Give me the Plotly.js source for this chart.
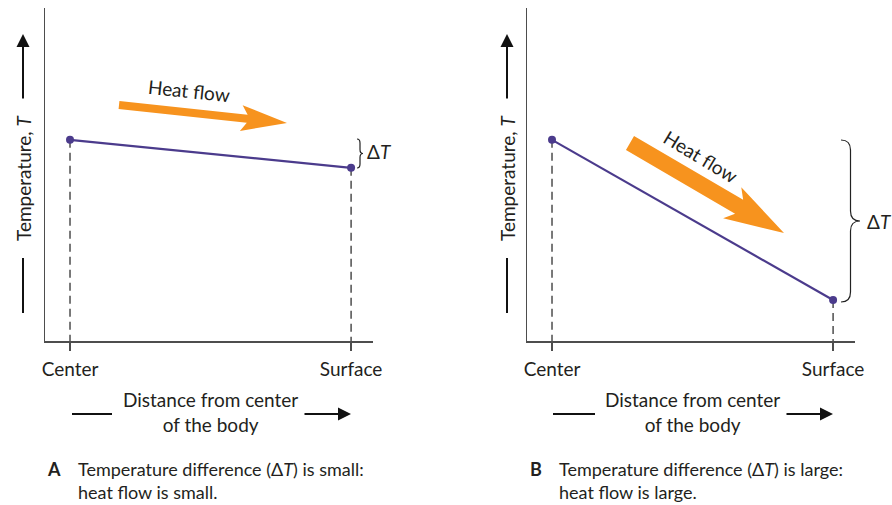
<!DOCTYPE html>
<html><head><meta charset="utf-8">
<script src="https://cdn.plot.ly/plotly-3.0.1.min.js"></script>
<style>html,body{margin:0;padding:0;background:#fff}#chart{width:892px;height:505px}</style>
</head><body><div id="chart"></div>
<script>
// ---- data ----
const positions = ['Center', 'Surface'];
const posX = [0, 1];
const tempA = [6.04, 5.2];   // panel A: small temperature difference
const tempB = [6.04, 1.23];  // panel B: large temperature difference
const xTitle = 'Distance from center<br>of the body';
const yTitle = 'Temperature, <i>T</i>';
const heatLabel = 'Heat flow';
const deltaLabel = 'Δ<i>T</i>';
const captionA = 'Temperature difference (Δ<i>T</i>) is small:<br>heat flow is small.';
const captionB = 'Temperature difference (Δ<i>T</i>) is large:<br>heat flow is large.';

// ---- style ----
const W = 892, H = 505;
const FONT = 'Lato, "Open Sans", sans-serif';
const TXT = '#231f20';
const PURPLE = '#4b3b8c';
const ORANGE = '#f7931e';
const AXC = '#4d4d4d';
const px = x => x / W;
const py = y => 1 - y / H;

function arrowPath(tx, ty, hx, hy, bw, hl, hw, sw) {
  const dx = hx - tx, dy = hy - ty, len = Math.hypot(dx, dy);
  const ux = dx / len, uy = dy / len, nx = -uy, ny = ux;
  const P = (d, o) => [tx + ux * d + nx * o, ty + uy * d + ny * o];
  const pts = [P(0, bw), P(len - hl + sw, bw), P(len - hl, hw), [hx, hy],
               P(len - hl, -hw), P(len - hl + sw, -bw), P(0, -bw)];
  return 'M' + pts.map(p => px(p[0]).toFixed(5) + ',' + py(p[1]).toFixed(5)).join(' L') + ' Z';
}
function bracePath(x0, y0, y1, w, r) {
  const ym = (y0 + y1) / 2, xm = x0 + w / 2;
  const f = (x, y) => px(x).toFixed(5) + ',' + py(y).toFixed(5);
  return 'M' + f(x0, y0) + ' Q' + f(xm, y0) + ' ' + f(xm, y0 + r) +
    ' L' + f(xm, ym - r) + ' Q' + f(xm, ym) + ' ' + f(x0 + w, ym) +
    ' Q' + f(xm, ym) + ' ' + f(xm, ym + r) +
    ' L' + f(xm, y1 - r) + ' Q' + f(xm, y1) + ' ' + f(x0, y1);
}
function hline(x0, x1, y) {
  return {type: 'line', xref: 'paper', yref: 'paper', x0: px(x0), x1: px(x1), y0: py(y), y1: py(y),
          line: {color: '#111', width: 2}};
}
function vline(x, y0, y1) {
  return {type: 'line', xref: 'paper', yref: 'paper', x0: px(x), x1: px(x), y0: py(y0), y1: py(y1),
          line: {color: '#111', width: 2}};
}
function arrowAnn(x, y, ax, ay) {
  return {xref: 'paper', yref: 'paper', x: px(x), y: py(y), ax: ax, ay: ay, text: '',
          showarrow: true, arrowhead: 2, arrowsize: 1.3, arrowwidth: 2, arrowcolor: '#111'};
}
function txt(x, y, text, size, opts) {
  return Object.assign({xref: 'paper', yref: 'paper', x: px(x), y: py(y), text: text, showarrow: false,
          xanchor: 'center', yanchor: 'middle',
          font: {family: FONT, size: size, color: TXT}}, opts || {});
}

const traces = [];
[['x', 'y', tempA], ['x2', 'y2', tempB]].forEach(([xa, ya, t]) => {
  posX.forEach((xv, i) => {
    traces.push({x: [xv, xv], y: [t[i], 0], xaxis: xa, yaxis: ya, mode: 'lines', hoverinfo: 'skip',
                 line: {color: '#222', width: 1.2, dash: '8px,5px'}, cliponaxis: false});
  });
  traces.push({x: posX, y: t, xaxis: xa, yaxis: ya, mode: 'lines+markers', cliponaxis: false,
               line: {color: PURPLE, width: 2.2}, marker: {color: PURPLE, size: 8}});
});

const xax = d => ({domain: d, range: [-0.089, 1.078], showgrid: false, zeroline: false,
  showline: true, linecolor: AXC, linewidth: 1.5, ticks: 'outside', ticklen: 8, tickwidth: 1.2, tickcolor: AXC,
  tickvals: posX, ticktext: positions, ticklabelstandoff: 3, fixedrange: true,
  tickfont: {family: FONT, size: 19, color: TXT}});
const yax = (anchor) => ({domain: [py(341), py(8)], range: [0, 10], showgrid: false, zeroline: false,
  showline: true, linecolor: AXC, linewidth: 1.5, showticklabels: false, ticks: '', anchor: anchor, fixedrange: true});

const layout = {
  width: W, height: H, margin: {l: 0, r: 0, t: 0, b: 0}, showlegend: false,
  paper_bgcolor: '#fff', plot_bgcolor: '#fff',
  xaxis: Object.assign(xax([px(45), px(373)]), {anchor: 'y'}),
  yaxis: yax('x'),
  xaxis2: Object.assign(xax([px(527), px(855)]), {anchor: 'y2'}),
  yaxis2: yax('x2'),
  shapes: [
    {type: 'path', xref: 'paper', yref: 'paper', path: arrowPath(119, 105, 287, 123, 4, 46, 13, 6), fillcolor: ORANGE, line: {width: 0}},
    {type: 'path', xref: 'paper', yref: 'paper', path: arrowPath(630, 143, 784, 233, 8, 60, 18, 8), fillcolor: ORANGE, line: {width: 0}},
    {type: 'path', xref: 'paper', yref: 'paper', path: bracePath(357, 139, 168, 6, 4), line: {color: '#222', width: 1.2}},
    {type: 'path', xref: 'paper', yref: 'paper', path: bracePath(841, 140, 302, 19, 10), line: {color: '#222', width: 1.2}},
    vline(23, 258, 313), vline(507, 258, 313),
    hline(72, 112, 414), hline(553, 595, 414)
  ],
  annotations: [
    arrowAnn(23, 34, 0, 66), arrowAnn(507, 34, 0, 66),
    arrowAnn(351, 414, -48, 0), arrowAnn(833, 414, -48, 0),
    txt(23, 178, yTitle, 19, {textangle: -90}),
    txt(507, 178, yTitle, 19, {textangle: -90}),
    txt(210, 412, xTitle, 19),
    txt(692, 412, xTitle, 19),
    txt(189, 91, heatLabel, 19, {textangle: 6}),
    txt(701, 156, heatLabel, 19, {textangle: 31}),
    txt(379, 151, deltaLabel, 19),
    txt(879, 222, deltaLabel, 19),
    txt(54, 469, '<b>A</b>', 18),
    txt(536, 469, '<b>B</b>', 18),
    txt(76, 480, captionA, 18, {xanchor: 'left', align: 'left'}),
    txt(557, 480, captionB, 18, {xanchor: 'left', align: 'left'})
  ]
};
Plotly.newPlot('chart', traces, layout, {displayModeBar: false, staticPlot: true});
</script></body></html>
